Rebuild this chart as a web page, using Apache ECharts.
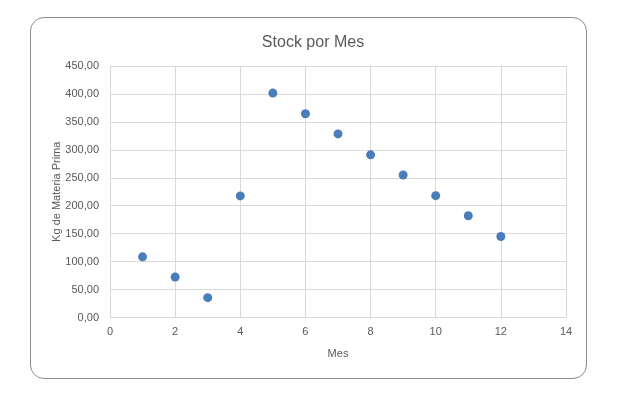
<!DOCTYPE html>
<html>
<head>
<meta charset="utf-8">
<script src="https://cdn.jsdelivr.net/npm/echarts@6/dist/echarts.min.js"></script>
<style>
html,body{margin:0;padding:0;background:#fff;}
#frame{position:absolute;left:30px;top:17px;width:555px;height:360px;border:1px solid #8c8c8c;border-radius:14px;}
#chart{position:absolute;left:0;top:0;width:626px;height:400px;}
</style>
</head>
<body>
<div id="frame"></div>
<div id="chart"></div>
<script>
const months = [1, 2, 3, 4, 5, 6, 7, 8, 9, 10, 11, 12];
const stock = [108.5, 72.5, 35.5, 217.5, 401.5, 364.5, 328.5, 291, 255, 218, 182, 145];
const xTicks = [0, 2, 4, 6, 8, 10, 12, 14];
const yTicks = [0, 50, 100, 150, 200, 250, 300, 350, 400, 450];

const chart = echarts.init(document.getElementById('chart'), null, {renderer: 'canvas'});
const font = 'Liberation Sans';
chart.setOption({
  animation: false,
  backgroundColor: 'transparent',
  title: {
    text: 'Stock por Mes',
    left: 'center',
    top: 30,
    textStyle: {fontFamily: font, fontSize: 16, fontWeight: 'normal', color: '#595959'}
  },
  grid: {left: 110, right: 60, top: 66, bottom: 82.5},
  xAxis: {
    type: 'value',
    min: xTicks[0], max: xTicks[xTicks.length - 1], interval: 2,
    name: 'Mes', nameLocation: 'middle', nameGap: 31, nameMoveOverlap: false,
    nameTextStyle: {fontFamily: font, fontSize: 11, color: '#595959'},
    axisLine: {show: true, lineStyle: {color: '#d9d9d9'}},
    axisTick: {show: false},
    axisLabel: {fontFamily: font, fontSize: 11, color: '#595959', margin: 9},
    splitLine: {show: true, lineStyle: {color: '#d9d9d9'}}
  },
  yAxis: {
    type: 'value',
    min: yTicks[0], max: yTicks[yTicks.length - 1], interval: 50,
    name: 'Kg de Materia Prima', nameLocation: 'middle', nameGap: 48, nameMoveOverlap: false,
    nameTextStyle: {fontFamily: font, fontSize: 11, color: '#595959'},
    axisLine: {show: true, lineStyle: {color: '#d9d9d9'}},
    axisTick: {show: false},
    axisLabel: {fontFamily: font, fontSize: 11, color: '#595959', margin: 11,
      formatter: v => v.toFixed(2).replace('.', ',')},
    splitLine: {show: true, lineStyle: {color: '#d9d9d9'}}
  },
  series: [{
    type: 'scatter',
    data: months.map((m, i) => [m, stock[i]]),
    symbolSize: 9,
    itemStyle: {color: '#4a7ebb', opacity: 1}
  }]
});
</script>
</body>
</html>
